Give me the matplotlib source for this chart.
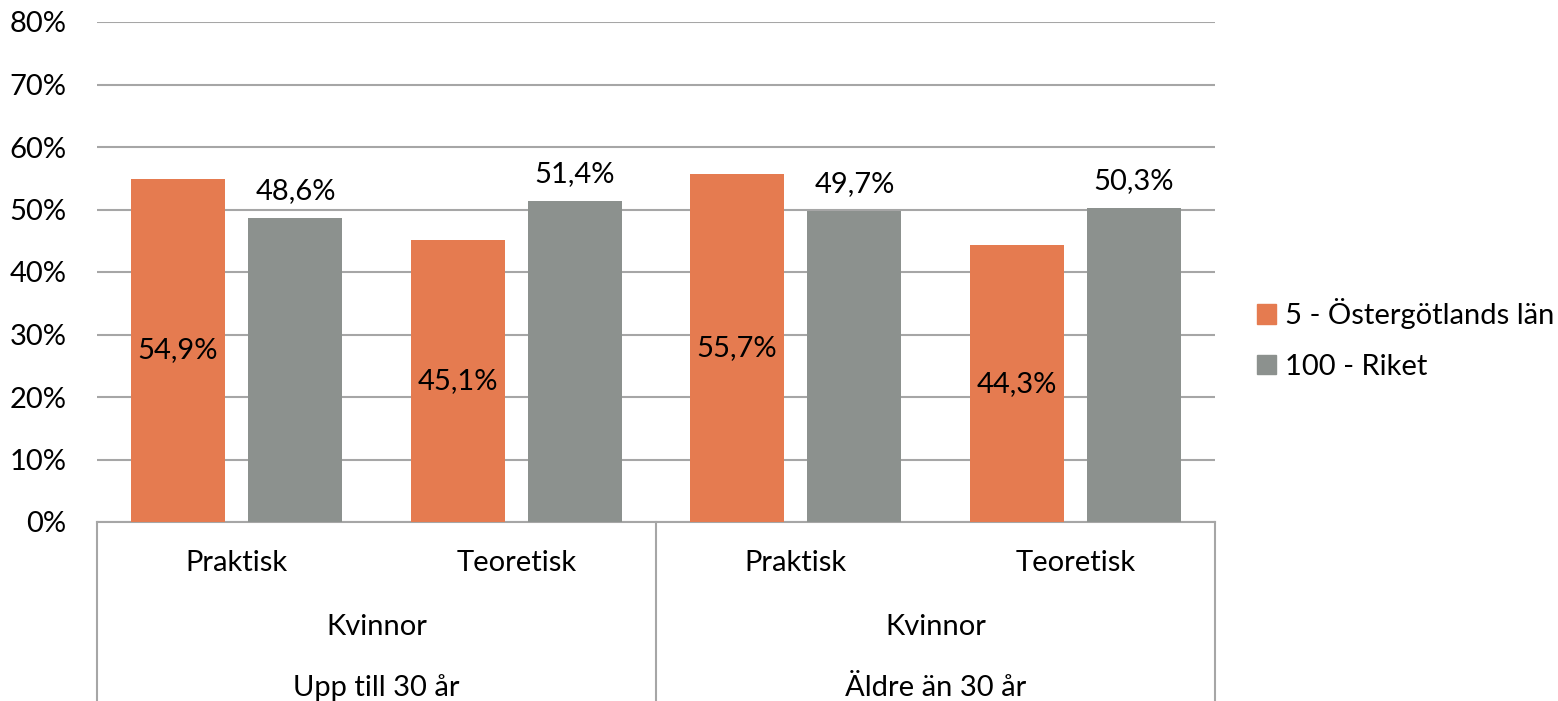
import matplotlib
matplotlib.use('Agg')
import matplotlib.pyplot as plt
from matplotlib.patches import Patch

plt.rcParams['font.family'] = ['Lato', 'DejaVu Sans']

# Data
categories = ['Praktisk', 'Teoretisk', 'Praktisk', 'Teoretisk']
gender = ['Kvinnor', 'Kvinnor']
age_groups = ['Upp till 30 år', 'Äldre än 30 år']
ostergotland = [54.9, 45.1, 55.7, 44.3]
riket = [48.6, 51.4, 49.7, 50.3]
series_names = ['5 - Östergötlands län', '100 - Riket']

orange = '#E57B50'
gray = '#8C918E'
gridc = '#A6A6A6'
fs = 21

fig = plt.figure(figsize=(15.58, 7.01), dpi=100)
ax = fig.add_axes([97/1558, (701-522)/701, (1215-97)/1558, 500/701])

x = list(range(len(categories)))
w = 0.336
off = 0.21
ax.bar([i - off for i in x], ostergotland, width=w, color=orange, zorder=3)
ax.bar([i + off for i in x], riket, width=w, color=gray, zorder=3)

fmt = lambda v: ('%.1f%%' % v).replace('.', ',')
for i, v in enumerate(ostergotland):
    ax.text(i - off, v / 2, fmt(v), ha='center', va='center', fontsize=fs, color='black', zorder=4)
for i, v in enumerate(riket):
    ax.annotate(fmt(v), (i + off, v), xytext=(0, 10), textcoords='offset points',
                ha='center', va='bottom', fontsize=fs, color='black')

ax.set_xlim(-0.5, 3.5)
ax.set_ylim(0, 80)
ax.set_yticks(range(0, 81, 10))
ax.set_yticklabels(['%d%%' % t for t in range(0, 81, 10)], fontsize=fs)
ax.yaxis.grid(True, color=gridc, linewidth=1.5, zorder=0)
ax.tick_params(axis='y', length=0, pad=22)
ax.tick_params(axis='x', length=0)
ax.set_xticks([])
for s in ['left', 'right', 'top']:
    ax.spines[s].set_visible(False)
ax.spines['bottom'].set_color(gridc)
ax.spines['bottom'].set_linewidth(1.5)

# multi-level category axis
trans = ax.get_xaxis_transform()
for i, c in enumerate(categories):
    ax.text(i, -0.082, c, transform=trans, ha='center', va='center', fontsize=fs)
for j in range(2):
    ax.text(2 * j + 0.5, -0.21, gender[j], transform=trans, ha='center', va='center', fontsize=fs)
    ax.text(2 * j + 0.5, -0.332, age_groups[j], transform=trans, ha='center', va='center', fontsize=fs)
for xv in [-0.5, 1.5, 3.5]:
    ax.plot([xv, xv], [0, -0.4], transform=trans, color=gridc, linewidth=1.5, clip_on=False)

handles = [Patch(color=orange, label=series_names[0]), Patch(color=gray, label=series_names[1])]
fig.legend(handles=handles, loc='center left', bbox_to_anchor=(1257/1558, (701-339)/701),
           frameon=False, fontsize=fs, handlelength=0.65, handleheight=0.65,
           handletextpad=0.3, labelspacing=0.85, borderpad=0, borderaxespad=0)

fig.savefig('out.png', dpi=100)
